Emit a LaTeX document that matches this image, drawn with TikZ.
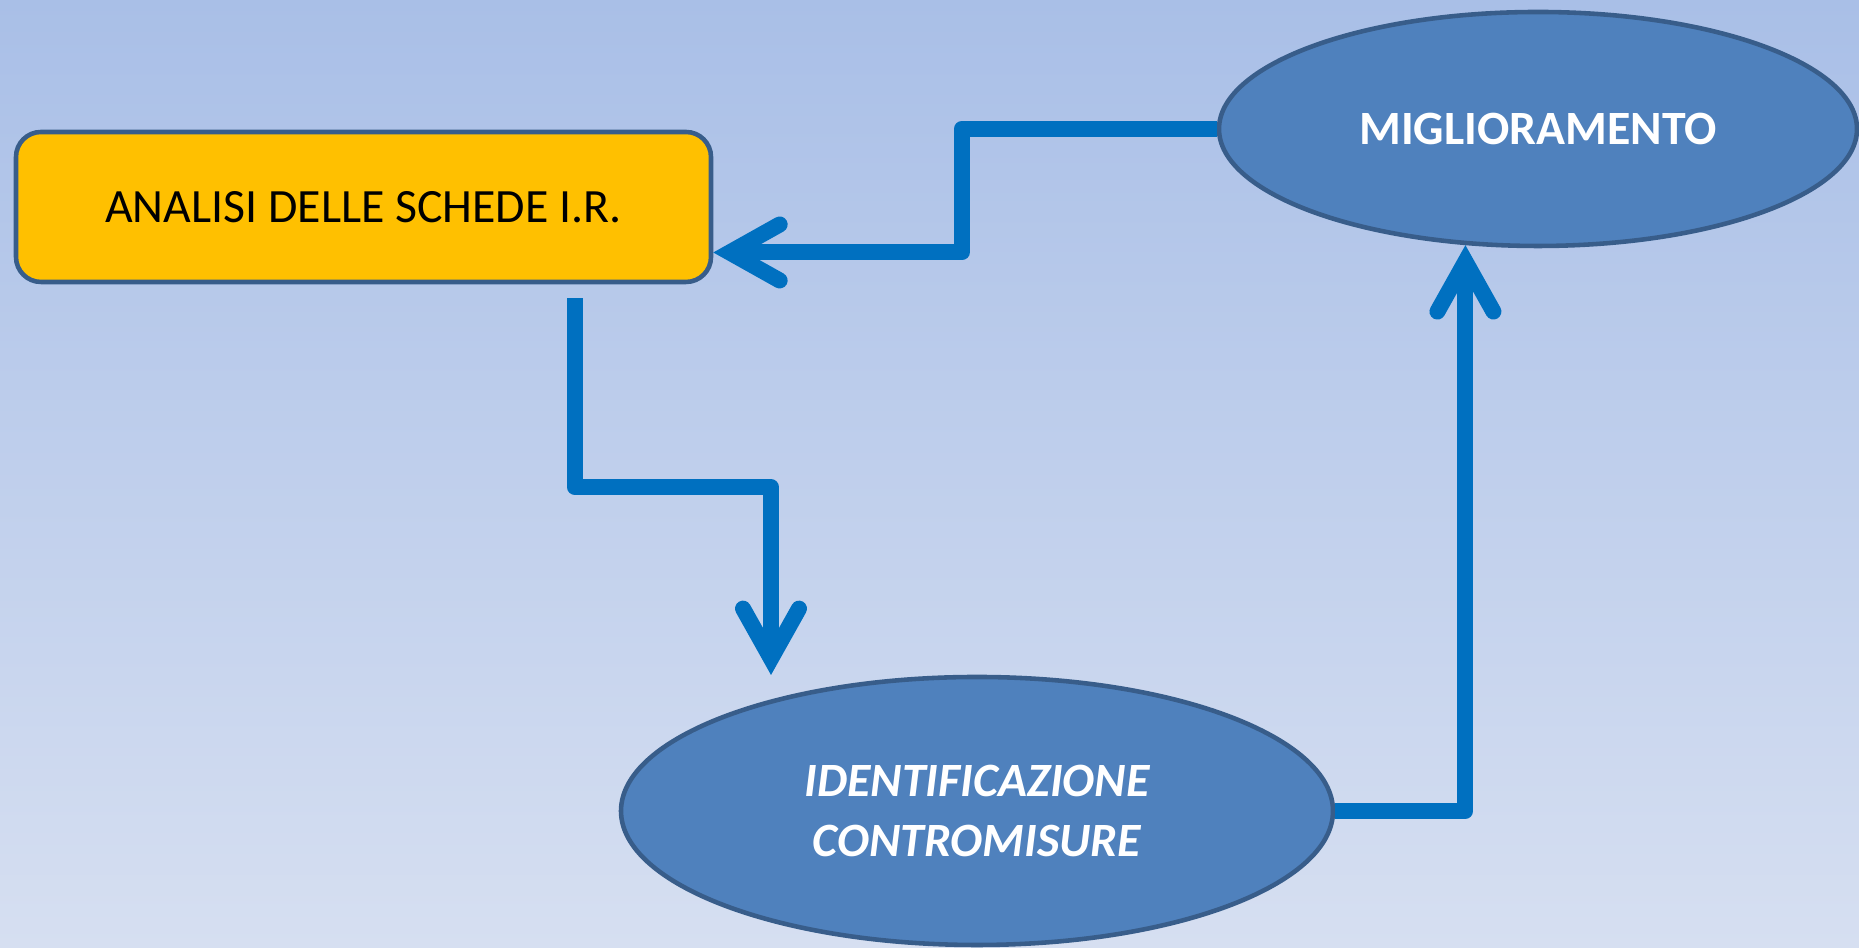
\documentclass[tikz,border=0pt]{standalone}
\usepackage{fontspec}
\setmainfont{Carlito}
\usetikzlibrary{arrows.meta,shapes.geometric}
\definecolor{bgtop}{RGB}{169,191,231}
\definecolor{bgbottom}{RGB}{214,223,241}
\definecolor{gold}{RGB}{255,192,0}
\definecolor{edge}{RGB}{56,93,138}
\definecolor{ovalfill}{RGB}{79,129,189}
\definecolor{flowblue}{RGB}{0,112,192}

\begin{document}
\begin{tikzpicture}[
    every node/.style={font=\fontsize{13.6}{17}\selectfont},
    box/.style={draw=edge, line width=1.3pt, fill=gold, rounded corners=2.5mm, minimum width=6.95cm, minimum height=1.5cm},
    oval/.style={ellipse, draw=edge, line width=1.3pt, fill=ovalfill, text=white, inner sep=0pt, align=center},
    flow/.style={flowblue, line width=1.6mm, line join=round, -{Straight Barb[length=5mm,width=5.6mm,line cap=round,line join=miter]}}
]
    % Background
    \shade[top color=bgtop, bottom color=bgbottom] (0,0) rectangle (18.59,9.48);
    \useasboundingbox (0,0) rectangle (18.59,9.48);

    % Steps
    \node[box] (analisi) at (3.635,7.41) {ANALISI DELLE SCHEDE I.R.};
    \node[oval, minimum width=6.38cm, minimum height=2.34cm, font=\fontsize{13.6}{17}\selectfont\bfseries] (miglior) at (15.38,8.19) {MIGLIORAMENTO};
    \node[oval, minimum width=7.12cm, minimum height=2.68cm, font=\fontsize{13.6}{17}\selectfont\bfseries\itshape] (identif) at (9.77,1.37) {IDENTIFICAZIONE\\CONTROMISURE};

    % Free end of the downward arrow
    \coordinate (drop) at ([xshift=-2.06cm,yshift=1.36cm]identif.center);

    % Connectors
    \draw[flow] (miglior.west) -- ++(-2.55,0) |- ([yshift=-4.55mm]analisi.east);
    \draw[flow, line cap=butt] ([xshift=21.15mm,yshift=-1.4mm]analisi.south) -- ++(0,-1.89) -| (drop);
    \draw[flow] (identif.east) -| (miglior.238);
\end{tikzpicture}
\end{document}
